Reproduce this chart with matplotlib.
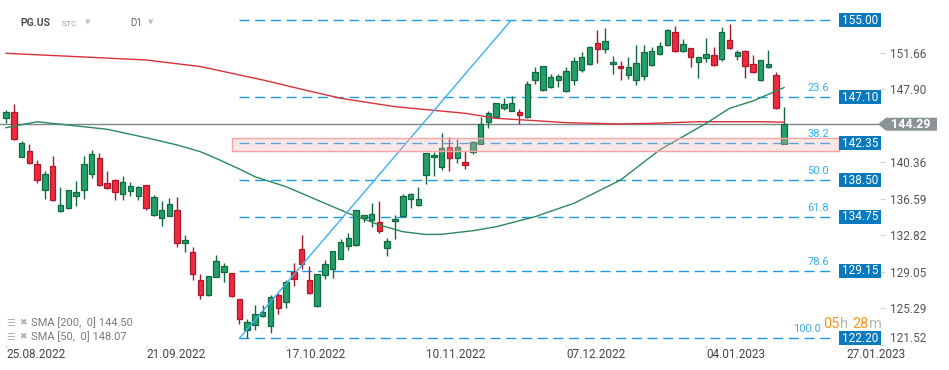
import numpy as np
import matplotlib
matplotlib.use("Agg")
import matplotlib.pyplot as plt
import matplotlib.transforms as mtransforms
from matplotlib.patches import Rectangle, Polygon

plt.rcParams['font.family'] = ['Roboto', 'DejaVu Sans']

# daily candles PG.US, bar 0 = 25.08.2022
opens = [144.97, 145.52, 140.88, 141.50, 140.15, 137.47, 139.98, 135.37, 135.61, 136.85,
         137.54, 139.12, 140.77, 138.19, 138.50, 137.13, 137.37, 136.85, 137.99, 134.89,
         134.58, 134.86, 135.41, 132.07, 131.11, 128.18, 126.70, 128.56, 129.01, 128.91,
         126.26, 123.06, 123.57, 124.55, 123.43, 126.63, 125.91, 129.04, 131.42, 128.18,
         125.50, 128.77, 129.32, 130.38, 131.69, 131.79, 134.65, 134.44, 134.17, 131.55,
         134.27, 134.86, 136.61, 135.92, 139.02, 140.88, 139.91, 141.94, 140.77, 140.36,
         141.39, 142.22, 144.56, 145.00, 146.00, 145.69, 145.52, 145.00, 148.89, 147.79,
         148.16, 148.82, 147.68, 148.82, 149.85, 150.47, 152.64, 152.09, 150.47, 150.26,
         149.40, 148.89, 149.30, 150.37, 151.50, 152.43, 153.77, 151.81, 152.12, 150.68,
         151.09, 151.40, 150.98, 152.95, 151.29, 151.84, 150.47, 148.82, 150.16, 149.33,
         142.28]
highs = [145.76, 146.38, 142.56, 142.22, 140.57, 139.50, 141.01, 137.82, 137.50, 138.43,
         141.01, 141.63, 141.29, 139.43, 138.64, 138.95, 138.33, 137.88, 138.02, 136.99,
         136.34, 136.68, 136.78, 132.86, 131.62, 128.80, 128.62, 130.80, 129.97, 128.95,
         126.30, 124.19, 125.64, 125.60, 126.67, 126.84, 128.22, 129.94, 132.86, 129.63,
         128.85, 130.28, 131.20, 132.45, 133.03, 135.45, 134.92, 136.16, 136.37, 132.52,
         134.89, 137.09, 137.23, 137.78, 141.32, 141.46, 143.35, 142.94, 142.77, 141.53,
         142.60, 145.00, 145.62, 146.48, 146.96, 147.24, 145.86, 148.75, 150.16, 150.30,
         149.44, 149.51, 150.19, 151.19, 151.74, 152.33, 154.01, 154.18, 151.29, 150.78,
         151.19, 152.43, 152.46, 152.22, 152.74, 154.08, 154.39, 153.05, 152.15, 151.22,
         153.15, 152.22, 154.29, 154.60, 151.98, 151.95, 151.40, 150.90, 151.95, 149.64,
         146.10]
lows = [144.39, 142.70, 140.88, 140.22, 138.23, 136.61, 136.40, 135.27, 135.55, 135.89,
        136.61, 138.78, 137.95, 137.64, 136.51, 136.51, 136.89, 136.51, 135.48, 134.85,
        133.83, 134.80, 131.59, 131.14, 128.22, 126.22, 126.60, 128.50, 127.98, 126.43,
        123.71, 122.20, 123.06, 124.36, 122.78, 124.74, 125.36, 127.63, 129.32, 126.80,
        125.45, 128.28, 128.46, 130.35, 131.35, 131.75, 134.24, 133.72, 133.10, 130.73,
        132.48, 134.82, 135.68, 135.90, 138.16, 138.98, 139.57, 139.50, 140.32, 139.71,
        141.18, 142.20, 143.94, 144.98, 145.79, 145.62, 144.35, 144.98, 148.47, 147.75,
        148.03, 148.13, 147.65, 148.37, 149.64, 150.45, 150.64, 151.60, 149.51, 148.89,
        148.99, 148.30, 148.89, 150.35, 151.40, 152.40, 151.78, 151.78, 150.23, 149.02,
        150.74, 150.35, 150.78, 152.10, 150.88, 149.09, 149.54, 148.80, 150.14, 145.90,
        142.20]
closes = [145.59, 142.73, 142.32, 140.33, 138.50, 139.16, 136.44, 135.96, 137.47, 137.27,
          140.15, 141.19, 137.99, 137.75, 137.33, 138.37, 137.88, 137.78, 135.68, 136.75,
          135.41, 136.03, 132.00, 132.31, 128.80, 126.67, 128.60, 130.18, 129.63, 126.57,
          124.16, 123.92, 124.67, 124.88, 126.46, 125.36, 127.98, 128.28, 129.87, 126.84,
          128.80, 129.83, 131.17, 132.10, 132.52, 135.41, 134.89, 134.99, 133.24, 132.21,
          134.51, 136.85, 137.06, 136.54, 141.29, 141.12, 141.80, 140.77, 141.94, 140.05,
          142.42, 144.28, 145.42, 146.45, 146.34, 146.45, 145.21, 148.40, 149.64, 150.26,
          149.13, 149.23, 149.75, 150.78, 151.19, 152.22, 152.09, 152.84, 150.68, 150.06,
          150.16, 150.57, 151.71, 151.81, 152.33, 153.98, 151.81, 152.53, 151.26, 151.19,
          151.50, 150.37, 153.77, 152.12, 151.71, 150.26, 149.64, 150.88, 150.47, 145.93,
          144.29]

# moving averages (bar index, value)
sma200_bar = [0, 9, 18, 25, 33, 38, 43, 50, 59, 63, 68, 72, 79, 83, 89, 97, 100]
sma200_val = [151.61, 151.27, 150.92, 150.24, 148.86, 147.90, 146.97, 146.10, 145.42,
              144.90, 144.66, 144.45, 144.32, 144.38, 144.55, 144.55, 144.50]
sma50_bar = [0, 4, 10, 13, 16, 18, 22, 25, 27, 30, 32, 36, 40, 44, 48, 51, 54, 56, 60,
             63, 68, 73, 79, 84, 90, 93, 96, 100]
sma50_val = [143.93, 144.55, 144.03, 143.77, 143.25, 142.90, 142.15, 141.45, 140.77,
             139.67, 138.87, 137.84, 136.47, 135.10, 133.89, 133.20, 132.91, 132.93,
             133.30, 133.71, 134.75, 136.13, 138.54, 141.63, 144.39, 145.93, 146.69, 148.07]

# fibonacci retracement
fib_levels = [155.00, 147.10, 142.35, 138.50, 134.75, 129.15, 122.20]
fib_ratios = [None, "23.6", "38.2", "50.0", "61.8", "78.6", "100.0"]
fib_from_bar, fib_to_bar = 30, 106.3
trend_bars = [30, 64.9]
trend_prices = [122.20, 155.00]
zone_bars = [29.05, 107.1]
zone_prices = [141.56, 142.84]

last_price = 144.29
sma_labels = ["SMA [200,  0] 144.50", "SMA [50,  0] 148.07"]

ytick_vals = [121.52, 125.29, 129.05, 132.82, 136.59, 140.36, 147.90, 151.66]
tick_bars = [0, 18, 36, 54, 72, 90, 108]
tick_dates = ["25.08.2022", "21.09.2022", "17.10.2022", "10.11.2022",
              "07.12.2022", "04.01.2023", "27.01.2023"]

W, H = 949, 370
fig = plt.figure(figsize=(W / 100, H / 100), dpi=100)
ax = fig.add_axes([0, 25 / H, 880 / W, 345 / H])

# pixel mapping of the reference: x = 6 + 7.78 * bar, y = 1522.4 - 9.69 * price
bar_px, price_px = 7.78, 9.69
ax.set_xlim(-6 / bar_px, (880 - 6) / bar_px)
ax.set_ylim((1522.4 - 345) / price_px, 1522.4 / price_px)

idx = np.arange(len(opens))
o = np.array(opens); c = np.array(closes)
up = c >= o
body_bottom = np.minimum(o, c)
body_h = np.maximum(np.abs(c - o), 0.08)
fill = np.where(up, '#21a06a', '#ef2a3c')
edge = np.where(up, '#12683f', '#a9192b')

ax.vlines(idx, lows, highs, colors=edge, lw=1.0, zorder=2)
ax.bar(idx, body_h, bottom=body_bottom, width=0.7, color=fill, edgecolor=edge,
       linewidth=0.9, zorder=3)

ax.plot(sma200_bar, sma200_val, color='#d8313a', lw=1.0, zorder=4)
ax.plot(sma50_bar, sma50_val, color='#2a8a5c', lw=1.0, zorder=4)

ax.axhline(last_price, xmin=0, xmax=878 / 880, color='#7d8789', lw=1, zorder=1)

ax.hlines(fib_levels, fib_from_bar, fib_to_bar, colors='#1a9ae6',
          linestyles=(0, (7.2, 4.1)), lw=1, zorder=1)
ax.plot(trend_bars, trend_prices, color='#3fb0f2', lw=1, zorder=5)

ax.add_patch(Rectangle((zone_bars[0], zone_prices[0]), zone_bars[1] - zone_bars[0],
                       zone_prices[1] - zone_prices[0], facecolor=(0.97, 0.72, 0.73, 0.33),
                       edgecolor='#f4a3a6', lw=1, zorder=6))

# right side labels: x in figure fraction, y in prices
tr = mtransforms.blended_transform_factory(fig.transFigure, ax.transData)
unit = 1 / price_px
for lvl, ratio in zip(fib_levels, fib_ratios):
    ax.add_patch(Rectangle((839 / W, lvl - 7 * unit), 42 / W, 14 * unit, transform=tr,
                           facecolor='#0a7abf', edgecolor='none', clip_on=False, zorder=7))
    ax.text(860 / W, lvl, f"{lvl:.2f}", transform=tr, color='white', fontsize=8.5,
            ha='center', va='center', zorder=8, clip_on=False)
    if ratio:
        # the countdown sits over the last ratio, so that one ends a little earlier
        right = 821 if ratio == "100.0" else 829
        ax.text(right / W, lvl + 9 * unit, ratio, transform=tr, color='#35aef0',
                fontsize=8, ha='right', va='center', zorder=5)

arrow = [(878 / W, last_price), (886 / W, last_price + 6.5 * unit),
         (937 / W, last_price + 6.5 * unit), (937 / W, last_price - 6.5 * unit),
         (886 / W, last_price - 6.5 * unit)]
ax.add_patch(Polygon(arrow, closed=True, transform=tr, facecolor='#8a9497',
                     edgecolor='none', clip_on=False, zorder=7))
ax.text(911 / W, last_price, f"{last_price:.2f}", transform=tr, color='white',
        fontsize=9, fontweight='bold', ha='center', va='center', zorder=8)

# axes ticks
for s in ax.spines.values():
    s.set_visible(False)
ax.yaxis.tick_right()
ax.set_yticks(ytick_vals)
ax.set_yticklabels([f"{v:.2f}" for v in ytick_vals])
ax.tick_params(axis='y', length=3.6, pad=3.5, color='#d0d0d0', labelcolor='#555555',
               labelsize=8.5)
ax.get_yticklabels()[0].set_verticalalignment('bottom')
ax.set_xticks(tick_bars)
ax.set_xticklabels(tick_dates, ha='left')
ax.tick_params(axis='x', length=2, pad=0.5, color='#d8d8d8', labelcolor='#444444',
               labelsize=8.5)

# header
fig.text(20.5 / W, 1 - 23.5 / H, "PG.US", fontsize=7.5, fontweight='bold',
         color='#4d4d4d', va='center')
fig.text(62 / W, 1 - 24 / H, "STC", fontsize=6, color='#a0a0a0', va='center')
fig.text(85 / W, 1 - 22 / H, "▼", fontsize=5, color='#c0c0c0', va='center',
         family=['DejaVu Sans'])
fig.text(130 / W, 1 - 23.5 / H, "D1", fontsize=7, color='#666666', va='center')
fig.text(148 / W, 1 - 22 / H, "▼", fontsize=5, color='#c0c0c0', va='center',
         family=['DejaVu Sans'])

# indicator legend
for k, lab in enumerate(sma_labels):
    yy = 1 - (323 + 14 * k) / H
    fig.text(6 / W, yy, "☰", fontsize=7, color='#b0b0b0', va='center',
             family=['DejaVu Sans'])
    fig.text(19 / W, yy, "✖", fontsize=6.5, color='#b0b0b0', va='center',
             family=['DejaVu Sans'])
    fig.text(31 / W, yy, lab, fontsize=8, color='#7a7a7a', va='center')

# countdown
for txt, xpos, col in [("05", 823, '#f7941d'), ("h", 840, '#b4b4b4'),
                       ("28", 852, '#f7941d'), ("m", 869, '#b4b4b4')]:
    fig.text(xpos / W, 1 - 324.5 / H, txt, fontsize=10.5, color=col, va='center')

fig.savefig("out.png", dpi=100)
